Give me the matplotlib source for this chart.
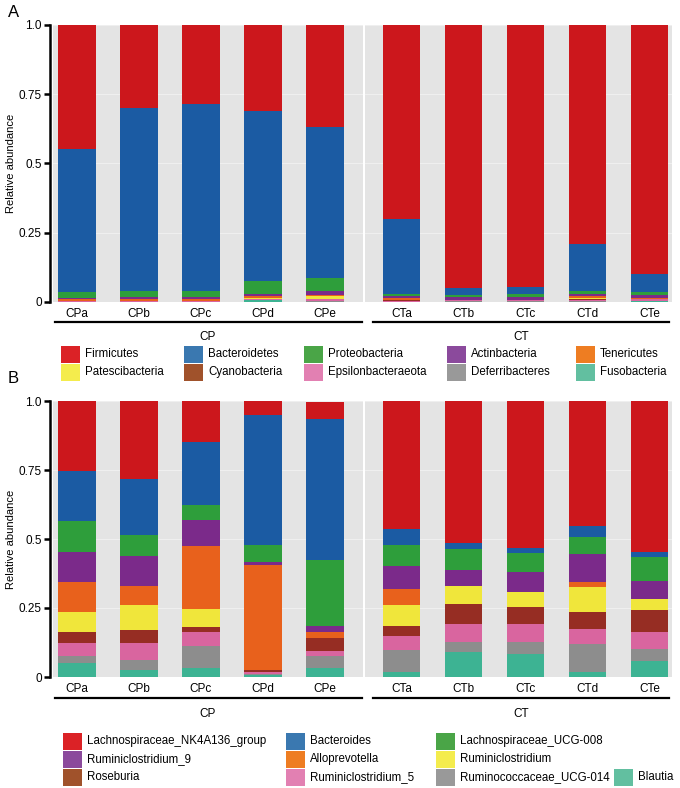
import matplotlib
matplotlib.use("Agg")
import matplotlib.pyplot as plt
from matplotlib.patches import Rectangle
import numpy as np

plt.rcParams['font.family'] = ['Liberation Sans', 'DejaVu Sans']

cp_samples = ["CPa", "CPb", "CPc", "CPd", "CPe"]
ct_samples = ["CTa", "CTb", "CTc", "CTd", "CTe"]

# panel A, phylum level: values for CPa..CPe, CTa..CTe
firmicutes = [0.448, 0.300, 0.285, 0.310, 0.370, 0.700, 0.950, 0.946, 0.790, 0.899]
bacteroidetes = [0.517, 0.662, 0.677, 0.614, 0.544, 0.270, 0.024, 0.024, 0.171, 0.066]
proteobacteria = [0.019, 0.020, 0.021, 0.046, 0.048, 0.010, 0.008, 0.012, 0.009, 0.011]
actinbacteria = [0.006, 0.007, 0.007, 0.008, 0.012, 0.004, 0.010, 0.009, 0.008, 0.010]
tenericutes = [0.005, 0.007, 0.006, 0.006, 0.005, 0.008, 0.001, 0.001, 0.009, 0.002]
patescibacteria = [0.001, 0.001, 0.001, 0.004, 0.009, 0.002, 0.000, 0.000, 0.003, 0.000]
cyanobacteria = [0.001, 0.001, 0.001, 0.001, 0.002, 0.003, 0.001, 0.001, 0.002, 0.001]
epsilonbacteraeota = [0.002, 0.001, 0.001, 0.003, 0.007, 0.002, 0.004, 0.005, 0.004, 0.006]
deferribacteres = [0.001, 0.001, 0.001, 0.002, 0.002, 0.001, 0.002, 0.002, 0.003, 0.003]
fusobacteria = [0.000, 0.000, 0.000, 0.006, 0.001, 0.000, 0.000, 0.000, 0.001, 0.002]

phyla_names = ["Firmicutes", "Bacteroidetes", "Proteobacteria", "Actinbacteria", "Tenericutes",
               "Patescibacteria", "Cyanobacteria", "Epsilonbacteraeota", "Deferribacteres", "Fusobacteria"]
phyla_values = [firmicutes, bacteroidetes, proteobacteria, actinbacteria, tenericutes,
                patescibacteria, cyanobacteria, epsilonbacteraeota, deferribacteres, fusobacteria]

# panel B, genus level
lachno_nk4a136 = [0.253, 0.281, 0.149, 0.052, 0.064, 0.463, 0.514, 0.532, 0.454, 0.546]
bacteroides = [0.182, 0.203, 0.226, 0.468, 0.511, 0.059, 0.021, 0.018, 0.038, 0.020]
lachno_ucg008 = [0.111, 0.076, 0.056, 0.063, 0.239, 0.075, 0.076, 0.068, 0.061, 0.086]
rumini_9 = [0.108, 0.110, 0.095, 0.010, 0.022, 0.084, 0.061, 0.073, 0.104, 0.064]
alloprevotella = [0.111, 0.069, 0.229, 0.380, 0.020, 0.058, 0.000, 0.000, 0.017, 0.000]
ruminiclostridium = [0.071, 0.091, 0.063, 0.001, 0.002, 0.075, 0.064, 0.054, 0.090, 0.040]
roseburia = [0.042, 0.046, 0.020, 0.008, 0.045, 0.038, 0.072, 0.064, 0.061, 0.080]
rumini_5 = [0.047, 0.063, 0.050, 0.006, 0.020, 0.051, 0.066, 0.065, 0.055, 0.064]
ruminococ_ucg014 = [0.023, 0.034, 0.078, 0.006, 0.041, 0.080, 0.036, 0.043, 0.103, 0.043]
blautia = [0.052, 0.027, 0.034, 0.006, 0.034, 0.017, 0.090, 0.083, 0.017, 0.057]

genus_names = ["Lachnospiraceae_NK4A136_group", "Bacteroides", "Lachnospiraceae_UCG-008",
               "Ruminiclostridium_9", "Alloprevotella", "Ruminiclostridium",
               "Roseburia", "Ruminiclostridium_5", "Ruminococcaceae_UCG-014", "Blautia"]
genus_values = [lachno_nk4a136, bacteroides, lachno_ucg008, rumini_9, alloprevotella,
                ruminiclostridium, roseburia, rumini_5, ruminococ_ucg014, blautia]

bar_colors = ["#CC171C", "#1B5BA3", "#2E9E3B", "#7B2A8A", "#E8611C",
              "#F0E63B", "#962D23", "#D9659F", "#8D8D8D", "#3DB393"]
key_colors = ["#DB2226", "#3A78B0", "#4AA547", "#8B4A9C", "#EE7D22",
              "#F4EC4D", "#A0522B", "#E280B2", "#999999", "#62BFA0"]

W, H = 680, 788
fig = plt.figure(figsize=(W / 100, H / 100), dpi=100)


def px_axes(x0, y0, x1, y1):
    return fig.add_axes([x0 / W, 1 - y1 / H, (x1 - x0) / W, (y1 - y0) / H])


def draw_facet(ax, labels, values, offset, xlim, first):
    ax.set_facecolor("#E4E4E4")
    x = np.arange(len(labels))
    bottom = np.zeros(len(labels))
    # stack from the last taxon (bottom) to the first (top)
    for vals, col in zip(values[::-1], bar_colors[::-1]):
        v = np.array(vals[offset:offset + 5])
        ax.bar(x, v, bottom=bottom, width=0.6, color=col, linewidth=0, zorder=2)
        bottom += v
    ax.set_xlim(*xlim)
    ax.set_ylim(0, 1)
    ax.set_yticks([0, 0.25, 0.5, 0.75, 1.0])
    ax.grid(axis="y", color="white", linewidth=0.6, alpha=0.5, zorder=1)
    ax.set_axisbelow(True)
    ax.set_xticks(x)
    ax.set_xticklabels(labels, fontsize=8.5)
    ax.tick_params(axis="x", length=0, pad=4)
    for s in ["top", "right", "bottom"]:
        ax.spines[s].set_visible(False)
    if first:
        ax.spines["left"].set_position(("outward", 2))
        ax.spines["left"].set_linewidth(1.8)
        ax.set_yticklabels(["0", "0.25", "0.5", "0.75", "1.0"], fontsize=8.5)
        ax.tick_params(axis="y", length=4, width=1.8, pad=2)
        ax.set_ylabel("Relative abundance", fontsize=8, labelpad=2)
    else:
        ax.spines["left"].set_visible(False)
        ax.tick_params(axis="y", length=0, labelleft=False)


for (top, bot), values in [((25, 302), phyla_values), ((401, 677), genus_values)]:
    axl = px_axes(53, top, 363, bot)
    draw_facet(axl, cp_samples, values, 0, (-0.387, 4.613), True)
    axr = px_axes(365, top, 672, bot)
    draw_facet(axr, ct_samples, values, 5, (-0.589, 4.363), False)

over = fig.add_axes([0, 0, 1, 1])
over.set_xlim(0, W)
over.set_ylim(H, 0)
over.axis("off")

over.text(8, 12, "A", fontsize=12, va="center", ha="left")
over.text(8, 378, "B", fontsize=12, va="center", ha="left")

for line_y, grp_y in [(322, 337), (698, 714)]:
    over.plot([55, 362], [line_y, line_y], color="black", linewidth=1.6)
    over.plot([373, 669], [line_y, line_y], color="black", linewidth=1.6)
    over.text(208, grp_y, "CP", fontsize=8.5, ha="center", va="center")
    over.text(521, grp_y, "CT", fontsize=8.5, ha="center", va="center")


def legend_key(x, y, name, color):
    over.add_patch(Rectangle((x, y - 8.5), 19, 17, facecolor=color, edgecolor="none"))
    over.text(x + 24, y, name, fontsize=8.3, ha="left", va="center")


# legend A: 2 rows x 5 columns
cols_a = [61, 184, 304, 447, 576]
rows_a = [354, 372]
for i, (name, col) in enumerate(zip(phyla_names, key_colors)):
    legend_key(cols_a[i % 5], rows_a[i // 5], name, col)

# legend B: 3 per row, Blautia squeezed into the last row
cols_b = [63, 286, 436]
rows_b = [741, 759, 777]
for i, (name, col) in enumerate(zip(genus_names, key_colors)):
    if i < 9:
        legend_key(cols_b[i % 3], rows_b[i // 3], name, col)
    else:
        legend_key(614, rows_b[2], name, col)

fig.savefig("out.png", dpi=100)
